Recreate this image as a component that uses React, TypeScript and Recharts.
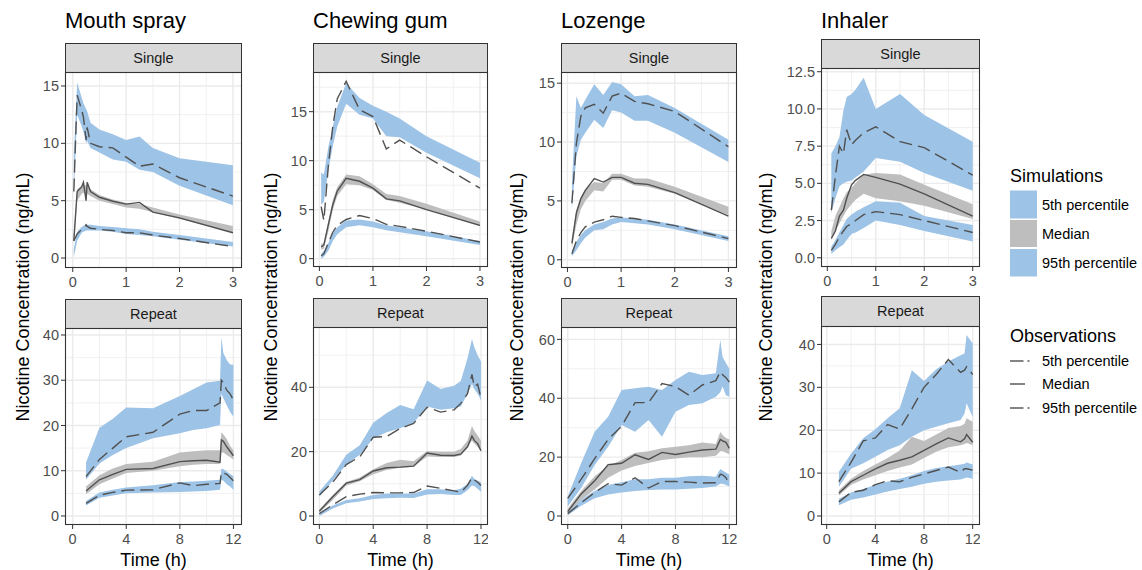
import React from 'react';
import { ComposedChart, Area, Line, XAxis, YAxis, CartesianGrid } from 'recharts';

// Each row: [simulated band low, simulated band high, observed percentile]
type Row = [number, number, number];

// ---------------- Mouth spray ----------------
const msSingleTime = [0.02, 0.083, 0.167, 0.2, 0.25, 0.27, 0.333, 0.5, 0.75, 1, 1.25, 1.5, 2, 3];
const msSingleP95: Row[] = [
  [5.5, 9.0, 5.8], [12.5, 15.3, 14.2], [11.5, 14.0, 12.9], [11.0, 13.5, 12.3], [10.0, 13.0, 10.3],
  [10.2, 12.8, 11.4], [9.6, 11.8, 10.0], [9.2, 11.2, 9.7], [8.6, 10.8, 9.6], [8.4, 10.3, 8.8],
  [7.7, 10.6, 8.0], [7.5, 9.6, 8.2], [6.3, 8.7, 7.0], [4.6, 8.1, 5.4],
];
const msSingleMed: Row[] = [
  [1.2, 2.0, 1.5], [5.0, 6.0, 5.8], [5.6, 6.3, 6.2], [5.7, 6.4, 6.6], [5.6, 6.3, 5.0],
  [5.6, 6.3, 6.6], [5.4, 6.0, 5.8], [5.0, 5.5, 5.3], [4.7, 5.1, 4.95], [4.4, 4.8, 4.7],
  [4.3, 4.7, 4.85], [4.0, 4.4, 4.0], [3.4, 3.8, 3.5], [2.2, 2.8, 2.2],
];
const msSingleP5: Row[] = [
  [0.1, 0.8, 1.5], [1.5, 2.3, 2.1], [2.2, 2.7, 2.5], [2.3, 2.8, 2.6], [2.4, 2.9, 2.9],
  [2.4, 2.9, 2.75], [2.4, 2.9, 2.6], [2.4, 2.8, 2.5], [2.3, 2.7, 2.4], [2.1, 2.6, 2.2],
  [2.0, 2.5, 2.2], [1.9, 2.3, 2.0], [1.6, 2.0, 1.7], [1.0, 1.4, 1.0],
];
const msRepeatTime = [1, 2, 3, 4, 6, 8, 9, 10, 11, 11.1, 11.25, 11.5, 11.75, 12];
const msRepeatP95: Row[] = [
  [8.0, 11.8, 8.7], [11.6, 19.5, 12.5], [13.5, 21.5, 15.0], [15.0, 24.0, 17.5], [17.2, 23.8, 18.5],
  [18.3, 26.5, 22.5], [19.0, 28.0, 23.3], [19.4, 29.5, 23.3], [20.1, 29.9, 25.0], [27.0, 39.5, 30.0],
  [26.0, 36.0, 29.5], [24.5, 34.5, 27.8], [23.0, 33.5, 27.0], [22.0, 33.4, 25.6],
];
const msRepeatMed: Row[] = [
  [4.8, 6.5, 5.5], [7.0, 9.0, 8.0], [8.3, 10.5, 9.2], [9.5, 11.5, 10.3], [10.0, 12.0, 10.5],
  [11.0, 14.0, 12.0], [11.3, 14.3, 12.2], [11.5, 14.5, 12.3], [11.5, 14.5, 11.9], [14.0, 18.5, 16.8],
  [14.0, 18.0, 16.5], [13.5, 17.0, 15.3], [13.0, 15.5, 14.3], [12.5, 14.5, 13.3],
];
const msRepeatP5: Row[] = [
  [2.3, 3.3, 2.8], [4.0, 5.2, 4.6], [4.5, 5.8, 5.2], [5.0, 6.3, 5.7], [5.2, 6.8, 5.8],
  [5.3, 7.5, 7.3], [5.4, 7.6, 6.7], [5.5, 7.8, 7.0], [5.8, 8.0, 7.2], [8.0, 10.5, 9.6],
  [7.8, 10.3, 9.5], [7.0, 9.8, 9.2], [6.5, 9.3, 8.5], [5.8, 8.8, 7.8],
];

// ---------------- Chewing gum ----------------
const cgSingleTime = [0.033, 0.083, 0.167, 0.25, 0.333, 0.5, 0.75, 1, 1.25, 1.5, 2, 3];
const cgSingleP95: Row[] = [
  [5.5, 8.8, 5.3], [5.8, 8.6, 3.9], [9.0, 11.4, 9.5], [11.5, 13.5, 13.5], [13.5, 15.5, 16.3],
  [15.8, 17.9, 18.1], [14.7, 16.4, 15.2], [14.3, 15.6, 14.5], [12.5, 15.0, 11.2], [12.4, 14.3, 12.1],
  [10.8, 12.5, 10.4], [8.2, 9.8, 7.2],
];
const cgSingleMed: Row[] = [
  [0.9, 1.5, 1.2], [1.0, 1.6, 1.4], [2.8, 3.8, 3.5], [5.0, 6.0, 5.5], [6.4, 7.3, 6.9],
  [7.6, 8.6, 8.2], [7.5, 8.4, 7.9], [7.0, 7.6, 7.2], [6.0, 6.6, 6.1], [5.7, 6.4, 5.9],
  [5.0, 5.6, 5.0], [3.3, 3.8, 3.4],
];
const cgSingleP5: Row[] = [
  [0.0, 0.5, 0.3], [0.2, 0.8, 0.5], [0.8, 1.6, 1.6], [1.8, 2.6, 2.7], [2.5, 3.2, 3.4],
  [3.2, 3.9, 4.0], [3.4, 4.0, 4.4], [3.2, 3.8, 4.1], [2.9, 3.4, 3.5], [2.7, 3.2, 3.3],
  [2.3, 2.8, 2.8], [1.4, 1.8, 1.7],
];
const cgRepeatTime = [0, 1, 2, 3, 4, 5, 6, 7, 8, 9, 10, 10.5, 11, 11.33, 11.5, 11.75, 12];
const cgRepeatP95: Row[] = [
  [6.0, 7.6, 6.5], [11.0, 12.5, 10.5], [15.9, 19.0, 16.0], [19.0, 22.0, 18.4], [24.1, 29.0, 24.5],
  [26.0, 32.0, 24.7], [27.3, 34.5, 27.2], [29.0, 33.2, 28.8], [34.0, 42.1, 33.8], [33.0, 39.5, 32.3],
  [33.5, 40.5, 33.0], [34.0, 42.0, 35.0], [38.0, 49.0, 38.0], [41.0, 55.0, 44.0], [39.5, 52.5, 40.2],
  [38.0, 50.0, 41.0], [36.0, 48.0, 36.6],
];
const cgRepeatMed: Row[] = [
  [1.0, 2.0, 1.5], [5.0, 6.5, 6.0], [9.5, 10.6, 10.2], [10.8, 12.0, 11.3], [13.0, 14.5, 14.0],
  [14.3, 16.5, 15.0], [15.0, 17.5, 15.2], [15.3, 17.0, 15.5], [18.5, 20.2, 19.6], [18.3, 20.0, 18.9],
  [18.3, 20.0, 18.8], [18.8, 20.8, 19.2], [21.5, 23.5, 21.5], [23.5, 28.0, 24.8], [22.5, 26.5, 23.5],
  [21.5, 25.0, 22.5], [20.0, 23.5, 20.3],
];
const cgRepeatP5: Row[] = [
  [0.0, 1.0, 0.7], [2.3, 3.3, 3.5], [4.0, 5.0, 6.0], [4.5, 5.5, 6.8], [5.3, 6.5, 7.3],
  [5.5, 7.0, 7.2], [5.7, 7.0, 7.2], [5.6, 7.0, 7.3], [6.7, 8.3, 9.3], [6.8, 8.3, 8.6],
  [6.5, 8.0, 7.8], [6.5, 8.5, 7.4], [8.0, 10.0, 9.5], [9.5, 12.5, 12.0], [9.3, 11.5, 11.2],
  [8.5, 11.0, 10.5], [7.5, 10.5, 9.5],
];

// ---------------- Lozenge ----------------
const lzSingleTime = [0.083, 0.167, 0.25, 0.333, 0.5, 0.667, 0.833, 1, 1.25, 1.5, 2, 3];
const lzSingleP95: Row[] = [
  [4.3, 6.5, 4.8], [8.8, 13.9, 9.9], [10.2, 12.9, 12.2], [10.8, 13.6, 12.9], [11.9, 14.9, 13.2],
  [11.2, 14.0, 12.45], [12.7, 15.1, 13.9], [12.5, 14.9, 14.15], [11.8, 13.9, 13.45], [11.8, 14.0, 13.25],
  [10.8, 12.9, 12.6], [8.3, 10.2, 9.6],
];
const lzSingleMed: Row[] = [
  [1.0, 1.8, 1.4], [3.0, 4.2, 4.0], [4.3, 5.3, 5.2], [5.0, 6.0, 5.9], [5.9, 6.6, 6.9],
  [5.8, 6.5, 6.6], [6.8, 7.3, 7.0], [6.8, 7.3, 7.0], [6.3, 6.9, 6.5], [6.2, 6.9, 6.4],
  [5.6, 6.2, 5.7], [3.8, 4.5, 3.7],
];
const lzSingleP5: Row[] = [
  [0.3, 0.8, 0.5], [0.8, 1.5, 1.6], [1.4, 2.1, 2.3], [1.9, 2.5, 2.8], [2.5, 3.0, 3.2],
  [2.6, 3.2, 3.4], [3.0, 3.5, 3.7], [3.2, 3.6, 3.6], [3.1, 3.5, 3.5], [3.0, 3.4, 3.3],
  [2.6, 3.0, 2.9], [1.6, 2.0, 1.8],
];
const lzRepeatTime = [0, 1, 2, 3, 4, 5, 6, 7, 8, 9, 10, 11, 11.33, 11.5, 11.75, 12];
const lzRepeatP95: Row[] = [
  [3.2, 6.6, 6.0], [9.5, 18.0, 12.5], [17.3, 28.6, 19.5], [23.5, 33.7, 26.0], [30.9, 42.8, 30.5],
  [28.6, 43.4, 38.5], [32.6, 43.9, 38.5], [26.9, 42.8, 45.0], [35.4, 46.2, 44.0], [37.7, 49.0, 41.0],
  [38.3, 47.9, 44.5], [40.5, 48.5, 46.0], [42.0, 59.8, 49.0], [44.0, 54.0, 48.0], [41.0, 52.0, 47.0],
  [40.5, 50.0, 45.5],
];
const lzRepeatMed: Row[] = [
  [1.0, 2.5, 1.5], [5.5, 8.5, 7.5], [9.0, 13.5, 12.0], [13.0, 17.0, 17.4], [15.5, 19.0, 17.9],
  [17.0, 21.5, 20.8], [18.0, 22.0, 19.2], [19.0, 23.0, 21.6], [19.5, 23.5, 20.9], [20.0, 24.0, 21.7],
  [20.0, 25.0, 22.4], [20.5, 24.5, 22.7], [22.0, 28.5, 26.0], [22.0, 27.5, 25.5], [21.5, 26.5, 25.0],
  [21.0, 26.0, 23.0],
];
const lzRepeatP5: Row[] = [
  [0.3, 1.2, 0.8], [3.5, 5.5, 4.5], [6.0, 8.5, 8.0], [7.3, 10.5, 11.0], [8.0, 11.5, 10.5],
  [8.5, 12.5, 13.0], [8.8, 12.5, 9.5], [9.0, 13.0, 11.7], [9.0, 13.0, 11.7], [9.3, 13.5, 11.5],
  [9.5, 13.7, 11.2], [10.0, 13.3, 11.3], [11.0, 16.0, 14.2], [11.0, 15.5, 14.0], [10.5, 14.8, 13.0],
  [10.0, 14.0, 10.8],
];

// ---------------- Inhaler ----------------
const inSingleTime = [0.083, 0.167, 0.25, 0.333, 0.4, 0.5, 0.583, 0.75, 1, 1.5, 2, 3];
const inSingleP95: Row[] = [
  [3.0, 7.0, 3.2], [4.0, 7.5, 5.5], [4.8, 8.1, 7.5], [5.0, 9.9, 7.0], [5.1, 10.8, 8.6],
  [5.2, 11.0, 7.6], [5.4, 11.3, 7.9], [5.8, 12.1, 8.4], [6.7, 10.0, 8.8], [6.45, 11.0, 7.8],
  [5.7, 9.6, 7.4], [4.5, 7.8, 5.55],
];
const inSingleMed: Row[] = [
  [1.2, 1.8, 1.3], [1.8, 2.8, 1.8], [2.3, 3.4, 2.8], [2.8, 4.0, 3.2], [3.2, 4.4, 4.0],
  [3.6, 4.7, 4.9], [3.9, 5.0, 5.2], [4.3, 5.6, 5.6], [4.0, 5.7, 5.4], [3.8, 5.6, 4.95],
  [3.5, 4.9, 4.3], [2.6, 3.6, 2.8],
];
const inSingleP5: Row[] = [
  [0.25, 0.75, 0.5], [0.5, 1.2, 0.9], [0.7, 1.7, 1.4], [0.9, 2.2, 1.8], [1.2, 2.6, 2.1],
  [1.6, 2.9, 2.3], [1.7, 3.1, 2.5], [2.0, 3.4, 2.9], [2.5, 3.8, 3.1], [2.2, 3.7, 2.9],
  [1.8, 2.8, 2.5], [1.1, 2.2, 1.7],
];
const inRepeatTime = [1, 2, 3, 4, 5, 6, 7, 8, 9, 10, 11, 11.33, 11.5, 12];
const inRepeatP95: Row[] = [
  [6.8, 10.3, 8.0], [11.0, 14.5, 12.5], [12.3, 18.1, 17.5], [13.8, 20.2, 18.2], [15.4, 22.8, 21.3],
  [16.5, 25.1, 20.3], [18.5, 34.0, 25.0], [20.0, 31.5, 30.0], [20.8, 34.2, 33.0], [21.6, 36.0, 36.5],
  [22.4, 37.5, 33.5], [23.9, 37.9, 34.0], [26.3, 42.2, 34.8], [23.1, 40.2, 33.0],
];
const inRepeatMed: Row[] = [
  [4.8, 6.0, 5.3], [7.3, 8.7, 8.0], [8.5, 10.5, 9.5], [9.5, 12.0, 11.0], [10.5, 13.5, 12.3],
  [11.3, 15.3, 13.0], [12.0, 18.5, 13.8], [13.5, 17.5, 15.3], [15.0, 19.0, 16.8], [16.0, 20.5, 18.2],
  [16.5, 21.0, 17.3], [16.8, 21.5, 18.0], [17.0, 22.8, 19.0], [16.5, 22.0, 17.2],
];
const inRepeatP5: Row[] = [
  [2.5, 4.0, 3.3], [3.8, 5.5, 5.5], [4.3, 6.3, 6.0], [5.0, 7.3, 7.3], [5.7, 8.0, 8.2],
  [6.3, 8.7, 8.0], [6.8, 9.5, 9.0], [7.5, 10.5, 9.8], [8.0, 11.2, 10.6], [8.3, 11.6, 11.4],
  [8.5, 12.0, 10.2], [8.8, 12.2, 11.0], [9.0, 12.5, 11.0], [8.7, 12.0, 10.7],
];

// ---------------- Tick labels / text ----------------
const productTitles = ['Mouth spray', 'Chewing gum', 'Lozenge', 'Inhaler'];
const stripLabels = ['Single', 'Repeat'];
const singleXTicks = [0, 1, 2, 3];
const singleXMinor = [0.5, 1.5, 2.5];
const repeatXTicks = [0, 4, 8, 12];
const repeatXMinor = [2, 6, 10];
const msSingleYTicks = [0, 5, 10, 15];
const msSingleYMinor = [2.5, 7.5, 12.5];
const msRepeatYTicks = [0, 10, 20, 30, 40];
const msRepeatYMinor = [5, 15, 25, 35];
const cgSingleYTicks = [0, 5, 10, 15];
const cgSingleYMinor = [2.5, 7.5, 12.5, 17.5];
const cgRepeatYTicks = [0, 20, 40];
const cgRepeatYMinor = [10, 30, 50];
const lzSingleYTicks = [0, 5, 10, 15];
const lzSingleYMinor = [2.5, 7.5, 12.5];
const lzRepeatYTicks = [0, 20, 40, 60];
const lzRepeatYMinor = [10, 30, 50];
const inSingleYTicks = [0, 2.5, 5, 7.5, 10, 12.5];
const inSingleYMinor = [1.25, 3.75, 6.25, 8.75, 11.25];
const inRepeatYTicks = [0, 10, 20, 30, 40];
const inRepeatYMinor = [5, 15, 25, 35];
const simLegend = ['5th percentile', 'Median', '95th percentile'];
const obsLegend = ['5th percentile', 'Median', '95th percentile'];

// ---------------- Styling / layout ----------------
const FONT = '"Liberation Sans", Arial, Helvetica, sans-serif';
const BLUE = '#9DC3E6';
const GREY = '#BEBEBE';
const OBS = '#505050';
const GRID = '#EBEBEB';
const DASH = '13 6';

type Spec = {
  time: number[]; p95: Row[]; med: Row[]; p5: Row[];
  left: number; right: number; top: number; bottom: number; stripTop: number; strip: string;
  xDomain: [number, number]; xTicks: number[]; xMinor: number[];
  yDomain: [number, number]; yTicks: number[]; yMinor: number[]; fmt?: (v: number) => string;
};

const cols = [
  { left: 65, right: 242, title: productTitles[0], yTitleX: 29 },
  { left: 313, right: 488, title: productTitles[1], yTitleX: 277 },
  { left: 561, right: 737, title: productTitles[2], yTitleX: 523 },
  { left: 821, right: 980, title: productTitles[3], yTitleX: 772 },
];

const specs: Spec[] = [
  { time: msSingleTime, p95: msSingleP95, med: msSingleMed, p5: msSingleP5, left: 65, right: 242, top: 72, bottom: 268, stripTop: 43, strip: stripLabels[0],
    xDomain: [-0.145, 3.17], xTicks: singleXTicks, xMinor: singleXMinor, yDomain: [-0.87, 16.22], yTicks: msSingleYTicks, yMinor: msSingleYMinor },
  { time: msRepeatTime, p95: msRepeatP95, med: msRepeatMed, p5: msRepeatP5, left: 65, right: 242, top: 328, bottom: 525, stripTop: 299, strip: stripLabels[1],
    xDomain: [-0.57, 12.64], xTicks: repeatXTicks, xMinor: repeatXMinor, yDomain: [-2.0, 41.55], yTicks: msRepeatYTicks, yMinor: msRepeatYMinor },
  { time: cgSingleTime, p95: cgSingleP95, med: cgSingleMed, p5: cgSingleP5, left: 313, right: 488, top: 72, bottom: 267, stripTop: 43, strip: stripLabels[0],
    xDomain: [-0.12, 3.15], xTicks: singleXTicks, xMinor: singleXMinor, yDomain: [-0.85, 19.05], yTicks: cgSingleYTicks, yMinor: cgSingleYMinor },
  { time: cgRepeatTime, p95: cgRepeatP95, med: cgRepeatMed, p5: cgRepeatP5, left: 313, right: 488, top: 327, bottom: 525, stripTop: 298, strip: stripLabels[1],
    xDomain: [-0.47, 12.52], xTicks: repeatXTicks, xMinor: repeatXMinor, yDomain: [-2.8, 58.75], yTicks: cgRepeatYTicks, yMinor: cgRepeatYMinor },
  { time: lzSingleTime, p95: lzSingleP95, med: lzSingleMed, p5: lzSingleP5, left: 561, right: 737, top: 72, bottom: 268, stripTop: 43, strip: stripLabels[0],
    xDomain: [-0.12, 3.16], xTicks: singleXTicks, xMinor: singleXMinor, yDomain: [-0.7, 15.95], yTicks: lzSingleYTicks, yMinor: lzSingleYMinor },
  { time: lzRepeatTime, p95: lzRepeatP95, med: lzRepeatMed, p5: lzRepeatP5, left: 561, right: 737, top: 327, bottom: 525, stripTop: 298, strip: stripLabels[1],
    xDomain: [-0.5, 12.57], xTicks: repeatXTicks, xMinor: repeatXMinor, yDomain: [-3.05, 64.2], yTicks: lzRepeatYTicks, yMinor: lzRepeatYMinor },
  { time: inSingleTime, p95: inSingleP95, med: inSingleMed, p5: inSingleP5, left: 821, right: 980, top: 68, bottom: 267, stripTop: 39, strip: stripLabels[0],
    xDomain: [-0.13, 3.15], xTicks: singleXTicks, xMinor: singleXMinor, yDomain: [-0.62, 12.75], yTicks: inSingleYTicks, yMinor: inSingleYMinor,
    fmt: (v: number) => v.toFixed(1) },
  { time: inRepeatTime, p95: inRepeatP95, med: inRepeatMed, p5: inRepeatP5, left: 821, right: 980, top: 326, bottom: 525, stripTop: 296, strip: stripLabels[1],
    xDomain: [-0.47, 12.6], xTicks: repeatXTicks, xMinor: repeatXMinor, yDomain: [-2.1, 44.3], yTicks: inRepeatYTicks, yMinor: inRepeatYMinor },
];

const YW = 60;
const XH = 30;
const MT = 12;
const tickStyle = { fill: '#4D4D4D', fontSize: 14.5, fontFamily: FONT };

function PanelChart({ s }: { s: Spec }) {
  const data = s.time.map((t, i) => ({
    t,
    b95: [s.p95[i][0], s.p95[i][1]],
    o95: s.p95[i][2],
    bMed: [s.med[i][0], s.med[i][1]],
    oMed: s.med[i][2],
    b5: [s.p5[i][0], s.p5[i][1]],
    o5: s.p5[i][2],
  }));
  const w = s.right - s.left;
  const h = s.bottom - s.top;
  return (
    <div style={{ position: 'absolute', left: s.left - YW, top: s.top - MT }}>
      <ComposedChart width={w + YW} height={h + XH + MT} data={data} margin={{ top: MT, right: 0, bottom: 0, left: 0 }}>
        <CartesianGrid horizontalValues={s.yMinor} verticalValues={s.xMinor} stroke={GRID} strokeWidth={0.7} fill="none" />
        <CartesianGrid horizontalValues={s.yTicks} verticalValues={s.xTicks} stroke={GRID} strokeWidth={1.4} fill="none" />
        <XAxis type="number" dataKey="t" domain={s.xDomain} ticks={s.xTicks} interval={0} allowDataOverflow
          height={XH} tickSize={4} tickMargin={5} axisLine={false} tickLine={{ stroke: '#333333' }} tick={tickStyle} />
        <YAxis type="number" domain={s.yDomain} ticks={s.yTicks} interval={0} allowDataOverflow width={YW}
          tickSize={4} tickMargin={2} axisLine={false} tickLine={{ stroke: '#333333' }} tick={tickStyle}
          tickFormatter={s.fmt} />
        <Area type="linear" dataKey="b95" stroke="none" fill={BLUE} fillOpacity={1} isAnimationActive={false} />
        <Area type="linear" dataKey="bMed" stroke="none" fill={GREY} fillOpacity={1} isAnimationActive={false} />
        <Area type="linear" dataKey="b5" stroke="none" fill={BLUE} fillOpacity={1} isAnimationActive={false} />
        <Line type="linear" dataKey="o95" stroke={OBS} strokeWidth={1.4} strokeDasharray={DASH} dot={false} activeDot={false} isAnimationActive={false} />
        <Line type="linear" dataKey="oMed" stroke={OBS} strokeWidth={1.4} dot={false} activeDot={false} isAnimationActive={false} />
        <Line type="linear" dataKey="o5" stroke={OBS} strokeWidth={1.4} strokeDasharray={DASH} dot={false} activeDot={false} isAnimationActive={false} />
      </ComposedChart>
    </div>
  );
}

export default function App() {
  const simKeys = [[190.5, 218.5], [220, 247], [249, 276.5]];
  const simLabelY = [209.5, 238.5, 268];
  const obsY = [361, 384, 408];
  return (
    <div style={{ position: 'absolute', left: 0, top: 0, width: 1142, height: 570, background: '#FFFFFF', overflow: 'hidden', fontFamily: FONT }}>
      {specs.map((s, i) => <PanelChart key={i} s={s} />)}
      <svg width={1142} height={570} style={{ position: 'absolute', left: 0, top: 0, pointerEvents: 'none' }} fontFamily={FONT}>
        {cols.map((c, i) => (
          <g key={i}>
            <text x={c.left} y={28} fontSize={22} fill="#000">{c.title}</text>
            <text x={(c.left + c.right) / 2} y={565.5} fontSize={18} fill="#000" textAnchor="middle">Time (h)</text>
            <text x={c.yTitleX} y={297} fontSize={18} fill="#000" textAnchor="middle" transform={`rotate(-90 ${c.yTitleX} 297)`}>
              Nicotine Concentration (ng/mL)
            </text>
          </g>
        ))}
        {specs.map((s, i) => (
          <g key={i}>
            <rect x={s.left + 0.5} y={s.stripTop + 0.5} width={s.right - s.left - 1} height={s.top - s.stripTop} fill="#D9D9D9" stroke="#333333" strokeWidth={1} />
            <text x={(s.left + s.right) / 2} y={(s.stripTop + s.top) / 2 + 5.2} fontSize={14.5} fill="#1A1A1A" textAnchor="middle">{s.strip}</text>
            <rect x={s.left + 0.5} y={s.top + 0.5} width={s.right - s.left - 1} height={s.bottom - s.top - 1} fill="none" stroke="#333333" strokeWidth={1.1} />
          </g>
        ))}
        <text x={1010} y={181.5} fontSize={18} fill="#000">Simulations</text>
        {simLegend.map((lab, i) => (
          <g key={i}>
            <rect x={1010} y={simKeys[i][0]} width={27} height={simKeys[i][1] - simKeys[i][0]} fill={i === 1 ? GREY : BLUE} />
            <text x={1042} y={simLabelY[i]} fontSize={14.5} fill="#000">{lab}</text>
          </g>
        ))}
        <text x={1010} y={341.5} fontSize={18} fill="#000">Observations</text>
        {obsLegend.map((lab, i) => (
          <g key={i}>
            <line x1={1010} x2={i === 1 ? 1025 : 1023.5} y1={obsY[i]} y2={obsY[i]} stroke={OBS} strokeWidth={1.4} />
            {i !== 1 && <line x1={1027.5} x2={1029.5} y1={obsY[i]} y2={obsY[i]} stroke={OBS} strokeWidth={1.4} />}
            <text x={1042} y={obsY[i] + 5.2} fontSize={14.5} fill="#000">{lab}</text>
          </g>
        ))}
      </svg>
    </div>
  );
}
